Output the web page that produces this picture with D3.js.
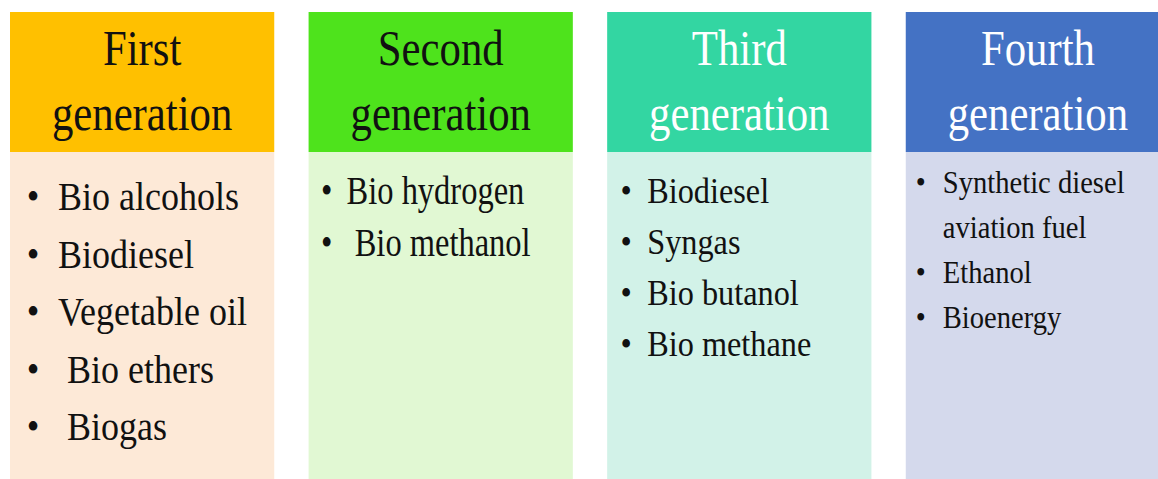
<!DOCTYPE html>
<html>
<head>
<meta charset="utf-8">
<script src="https://cdn.jsdelivr.net/npm/d3@7"></script>
<style>
  body { margin: 0; background: #fff; }
  text { font-family: "Liberation Serif", "Times New Roman", serif; white-space: pre; }
</style>
</head>
<body>
<div id="chart"></div>
<script>
// column data
var generations = ["First", "Second", "Third", "Fourth"];
var headerLines = [["First", "generation"], ["Second", "generation"], ["Third", "generation"], ["Fourth", "generation"]];
var items = [
    ["Bio alcohols", "Biodiesel", "Vegetable oil", " Bio ethers", " Biogas"],
    ["Bio hydrogen", " Bio methanol"],
    ["Biodiesel", "Syngas", "Bio butanol", "Bio methane"],
    ["Synthetic diesel", "aviation fuel", "Ethanol", "Bioenergy"]
];
// which item lines carry a bullet (the 4th column wraps one item over two lines)
var bullets = [
    [true, true, true, true, true],
    [true, true],
    [true, true, true, true],
    [true, false, true, true]
];

var headColors = ["#ffc000", "#4ee31c", "#33d6a2", "#4472c4"];
var bodyColors = ["#fde9d7", "#e1f8d3", "#d2f2e8", "#d4d9ec"];
var headText = ["#111", "#111", "#fff", "#fff"];

// per-column text styling
var itemSize = [36, 32.5, 32.3, 28.6];
var itemStretch = [1.12, 1.2, 1.12, 1.12];
var itemGap = [57.5, 52, 51, 45];
var itemTop = [210, 204, 203, 193];
var itemLeft = [48, 38, 40, 37];
var bulletDx = [-25, -20, -21, -22];

var width = 1158, height = 479;

var svg = d3.select("#chart")
    .append("svg")
    .attr("width", width)
    .attr("height", height);

// column positions
var x = d3.scaleBand()
    .domain(generations)
    .range([10, 1170])
    .paddingInner(0.115)
    .paddingOuter(0);

var headTop = 12, headBottom = 152;

var col = svg.selectAll("g.col")
    .data(generations)
    .enter()
    .append("g")
    .attr("class", "col")
    .attr("transform", function (d) { return "translate(" + x(d) + ",0)"; });

// body boxes
col.append("rect")
    .attr("x", 0)
    .attr("y", headBottom)
    .attr("width", x.bandwidth())
    .attr("height", height - headBottom)
    .attr("fill", function (d, i) { return bodyColors[i]; });

// header boxes
col.append("rect")
    .attr("x", 0)
    .attr("y", headTop)
    .attr("width", x.bandwidth())
    .attr("height", headBottom - headTop)
    .attr("fill", function (d, i) { return headColors[i]; });

col.each(function (d, i) {
    var g = d3.select(this);

    // header titles
    g.selectAll("text.head")
        .data(headerLines[i])
        .enter()
        .append("text")
        .attr("class", "head")
        .attr("transform", function (t, j) {
            return "translate(" + (x.bandwidth() / 2) + "," + (65 + j * 65) + ") scale(0.95,1.12)";
        })
        .attr("text-anchor", "middle")
        .style("font-size", "45px")
        .style("fill", headText[i])
        .text(function (t) { return t; });

    // item list
    var rows = g.selectAll("g.item")
        .data(items[i])
        .enter()
        .append("g")
        .attr("class", "item")
        .attr("transform", function (t, j) {
            return "translate(" + itemLeft[i] + "," + (itemTop[i] + j * itemGap[i]) + ") scale(1," + itemStretch[i] + ")";
        });

    rows.append("text")
        .style("font-size", itemSize[i] + "px")
        .style("fill", "#111")
        .text(function (t) { return t; });

    rows.filter(function (t, j) { return bullets[i][j]; })
        .append("text")
        .attr("x", bulletDx[i])
        .attr("text-anchor", "middle")
        .style("font-size", itemSize[i] + "px")
        .style("fill", "#111")
        .text("\u2022");
});
</script>
</body>
</html>
